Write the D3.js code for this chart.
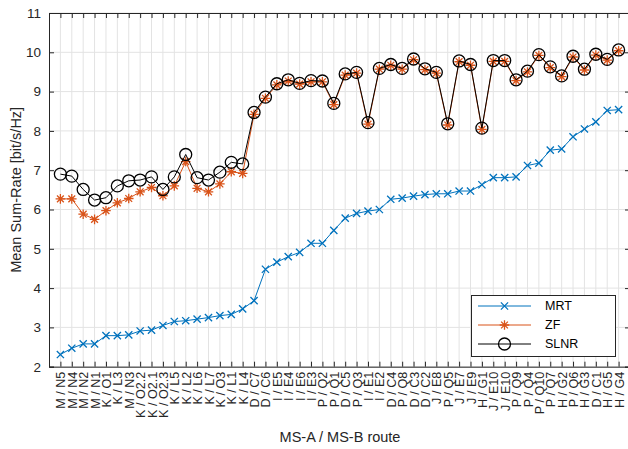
<!DOCTYPE html>
<html>
<head>
<meta charset="utf-8">
<script src="https://cdn.jsdelivr.net/npm/d3@7"></script>
<style>
  html, body { margin: 0; padding: 0; background: #fff; }
  svg { display: block; font-family: "Liberation Sans", Arial, Helvetica, sans-serif; }
</style>
</head>
<body>
<svg id="chart" width="628" height="449"></svg>
<script>
// Route labels (MS-A / MS-B)
const routes = [
  "M / N5", "M / N4", "M / N2", "M / N1", "K / O1", "K / L3", "M / N3", "K / O2.2", "K / O2.1", "K / O2.3",
  "K / L5", "K / L2", "K / L6", "K / L7", "K / O3", "K / L1", "K / L4", "D / C7", "D / C6", "I / E5",
  "I / E4", "I / E6", "I / E3", "P / Q2", "P / Q1", "D / C5", "P / Q3", "I / E1", "I / E2", "D / C4",
  "P / Q8", "D / C3", "D / C2", "J / E8", "P / Q5", "J / E7", "J / E9", "H / G1", "J / E10", "J / E10",
  "P / Q9", "P / Q4", "P / Q10", "P / Q7", "H / G2", "P / Q6", "H / G3", "D / C1", "H / G5", "H / G4"
];

// Mean sum-rate per route [bit/s/Hz]
const mrt = [
  2.31, 2.47, 2.58, 2.58, 2.79, 2.79, 2.81, 2.91, 2.93, 3.05,
  3.15, 3.17, 3.21, 3.25, 3.30, 3.33, 3.47, 3.68, 4.48, 4.66,
  4.80, 4.91, 5.14, 5.14, 5.47, 5.78, 5.90, 5.96, 6.00, 6.26,
  6.29, 6.34, 6.38, 6.40, 6.40, 6.47, 6.47, 6.63, 6.81, 6.81,
  6.83, 7.12, 7.18, 7.51, 7.54, 7.85, 8.05, 8.23, 8.52, 8.54
];
const zf = [
  6.27, 6.27, 5.88, 5.75, 5.97, 6.17, 6.28, 6.45, 6.56, 6.35,
  6.60, 7.22, 6.54, 6.45, 6.65, 6.96, 6.92, 8.42, 8.83, 9.17,
  9.27, 9.19, 9.25, 9.25, 8.67, 9.42, 9.47, 8.17, 9.57, 9.67,
  9.57, 9.81, 9.56, 9.47, 8.15, 9.76, 9.67, 8.04, 9.77, 9.77,
  9.28, 9.50, 9.92, 9.61, 9.38, 9.88, 9.55, 9.93, 9.80, 10.04
];
const slnr = [
  6.90, 6.85, 6.51, 6.24, 6.30, 6.60, 6.73, 6.75, 6.83, 6.51,
  6.83, 7.40, 6.81, 6.75, 6.95, 7.20, 7.16, 8.47, 8.86, 9.20,
  9.30, 9.21, 9.28, 9.27, 8.70, 9.45, 9.49, 8.21, 9.59, 9.69,
  9.59, 9.83, 9.58, 9.49, 8.18, 9.78, 9.69, 8.07, 9.79, 9.79,
  9.30, 9.52, 9.94, 9.63, 9.40, 9.90, 9.57, 9.95, 9.82, 10.06
];
const yTicks = [2, 3, 4, 5, 6, 7, 8, 9, 10, 11];

const series = [
  { name: "MRT",  values: mrt,  color: "#0072BD", marker: "cross" },
  { name: "ZF",   values: zf,   color: "#D95319", marker: "star" },
  { name: "SLNR", values: slnr, color: "#000000", marker: "circle" }
];

const svg = d3.select("#chart");
const box = { left: 49, right: 630, top: 13, bottom: 366.7 };

const x = d3.scaleLinear().domain([0, routes.length + 1]).range([box.left, box.right]);
const y = d3.scaleLinear().domain([2, 11]).range([box.bottom, box.top]);
const idx = d3.range(1, routes.length + 1);

const axisColor = "#262626";
const gridColor = "#e3e3e3";

// Grid
const grid = svg.append("g");
grid.selectAll("line.vx").data(idx).join("line")
  .attr("x1", d => x(d)).attr("x2", d => x(d))
  .attr("y1", box.top).attr("y2", box.bottom)
  .attr("stroke", gridColor).attr("stroke-width", 1);
grid.selectAll("line.hy").data(yTicks).join("line")
  .attr("x1", box.left).attr("x2", box.right)
  .attr("y1", d => y(d)).attr("y2", d => y(d))
  .attr("stroke", gridColor).attr("stroke-width", 1);

// Axes (ticks drawn inward, box style)
const tl = 5;
const bottomAxis = d3.axisBottom(x).tickValues(idx).tickSize(-tl).tickFormat(d => routes[d - 1]);
const gB = svg.append("g").attr("transform", `translate(0,${box.bottom})`).call(bottomAxis);
gB.select(".domain").attr("stroke", axisColor);
gB.selectAll(".tick line").attr("stroke", axisColor);
gB.selectAll(".tick text")
  .attr("fill", "#262626")
  .style("font-size", "12.6px")
  .attr("transform", "rotate(-90)")
  .attr("text-anchor", "end")
  .attr("x", -5).attr("y", 0).attr("dy", "0.36em");

const topAxis = d3.axisTop(x).tickValues(idx).tickSize(-tl).tickFormat("");
const gT = svg.append("g").attr("transform", `translate(0,${box.top})`).call(topAxis);
gT.select(".domain").attr("stroke", axisColor);
gT.selectAll(".tick line").attr("stroke", axisColor);

const leftAxis = d3.axisLeft(y).tickValues(yTicks).tickSize(-tl).tickPadding(8).tickFormat(d3.format("d"));
const gL = svg.append("g").attr("transform", `translate(${box.left},0)`).call(leftAxis);
gL.select(".domain").attr("stroke", axisColor);
gL.selectAll(".tick line").attr("stroke", axisColor);
gL.selectAll(".tick text").attr("fill", "#262626").style("font-size", "13.5px");

const rightAxis = d3.axisRight(y).tickValues(yTicks).tickSize(-tl).tickFormat("");
const gR = svg.append("g").attr("transform", `translate(${box.right},0)`).call(rightAxis);
gR.select(".domain").attr("stroke", axisColor);
gR.selectAll(".tick line").attr("stroke", axisColor);

// Axis titles
svg.append("text")
  .attr("x", 340).attr("y", 442)
  .attr("text-anchor", "middle").attr("fill", "#262626")
  .style("font-size", "14.5px").text("MS-A / MS-B route");
svg.append("text")
  .attr("transform", `translate(21,${(box.top + box.bottom) / 2}) rotate(-90)`)
  .attr("text-anchor", "middle").attr("fill", "#262626")
  .style("font-size", "14.5px").text("Mean Sum-Rate [bit/s/Hz]");

// Marker shapes
function markerPath(type) {
  if (type === "cross") {
    const s = 3.6;
    return `M${-s},${-s}L${s},${s}M${-s},${s}L${s},${-s}`;
  }
  if (type === "star") {
    const s = 4.8, d = 3.4;
    return `M${-s},0L${s},0M0,${-s}L0,${s}M${-d},${-d}L${d},${d}M${-d},${d}L${d},${-d}`;
  }
  return null;
}

function drawMarker(g, type, color) {
  if (type === "circle") {
    g.append("circle").attr("r", 6).attr("fill", "none")
      .attr("stroke", color).attr("stroke-width", 1.3);
  } else {
    g.append("path").attr("d", markerPath(type)).attr("fill", "none")
      .attr("stroke", color).attr("stroke-width", 1.3);
  }
}

const line = d3.line().x((d, i) => x(i + 1)).y(d => y(d));
const plot = svg.append("g");
series.forEach(s => {
  const g = plot.append("g");
  g.append("path").datum(s.values).attr("d", line)
    .attr("fill", "none").attr("stroke", s.color).attr("stroke-width", 1);
  g.selectAll("g.m").data(s.values).join("g")
    .attr("transform", (d, i) => `translate(${x(i + 1)},${y(d)})`)
    .each(function () { drawMarker(d3.select(this), s.marker, s.color); });
});

// Legend
const lg = svg.append("g");
lg.append("rect").attr("x", 471.5).attr("y", 295.5).attr("width", 144).attr("height", 61)
  .attr("fill", "#fff").attr("stroke", axisColor).attr("stroke-width", 1);
series.forEach((s, i) => {
  const ry = 306 + i * 19;
  lg.append("line").attr("x1", 478).attr("x2", 531).attr("y1", ry).attr("y2", ry)
    .attr("stroke", s.color).attr("stroke-width", 1);
  const m = lg.append("g").attr("transform", `translate(504.5,${ry})`);
  drawMarker(m, s.marker, s.color);
  lg.append("text").attr("x", 545).attr("y", ry).attr("dy", "0.35em")
    .attr("fill", "#000").style("font-size", "12.5px").text(s.name);
});
</script>
</body>
</html>
